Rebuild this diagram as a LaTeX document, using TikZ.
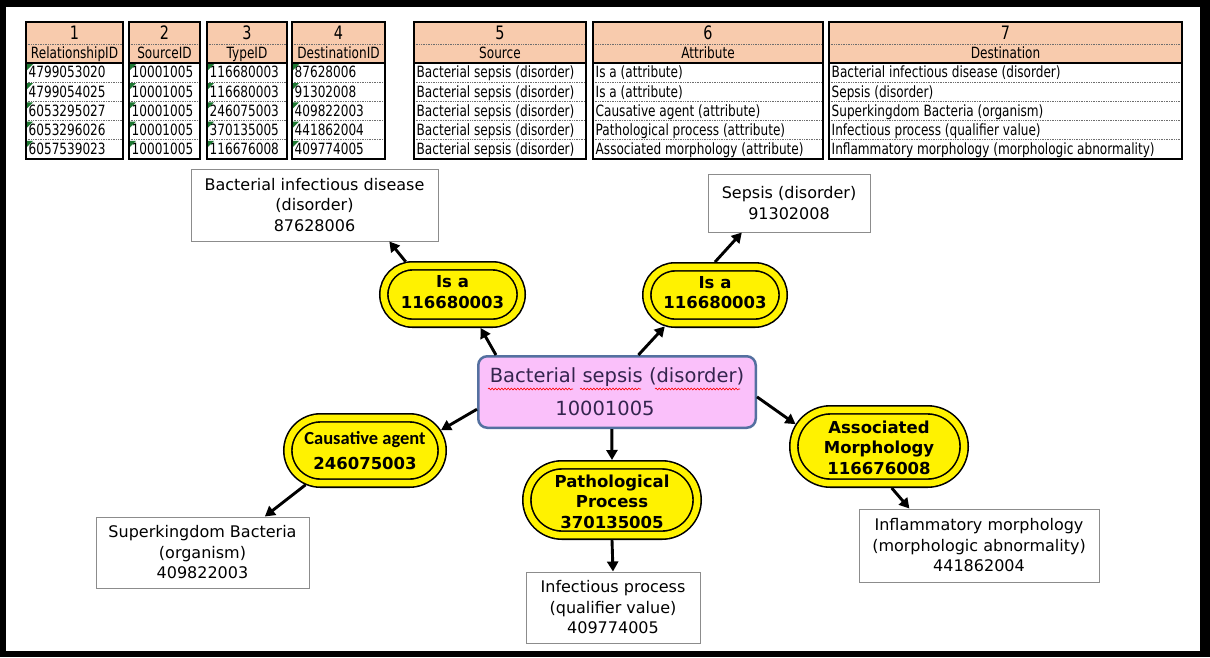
\documentclass[tikz,border=0pt]{standalone}
\usepackage{fontspec}
\setmainfont{DejaVu Sans}
\newfontfamily\tabfont{DejaVu Sans}[FakeStretch=0.78]
\newfontfamily\carl{Carlito}
\usetikzlibrary{shapes.misc,arrows.meta,decorations.pathmorphing}
\definecolor{hdr}{RGB}{248,203,173}
\definecolor{yel}{RGB}{255,242,0}
\definecolor{pinkfill}{RGB}{250,192,250}
\definecolor{mainblue}{RGB}{84,112,160}
\definecolor{boxgray}{RGB}{140,140,140}
\definecolor{maintext}{RGB}{52,36,78}
\definecolor{tgreen}{RGB}{30,120,50}
\definecolor{dotgray}{RGB}{110,110,110}
\newcommand{\coltable}[5]{%
  \fill[hdr] (#2,22) rectangle (#3,63);
  \draw[dotsep] (#2,44) -- (#3,44);
  \foreach \k in {1,...,4} {\draw[dotsep] (#2,{63+19.2*\k}) -- (#3,{63+19.2*\k});}
  \node[numtxt] (#1n) at ({(#2+#3)/2},39.5) {#4};
  \node[labtxt] (#1l) at ({(#2+#3)/2},58.5) {#5};
}
\newcommand{\colborder}[2]{%
  \draw[line width=1.5pt] (#1,63) -- (#2,63);
  \draw[line width=1.5pt] (#1,22) rectangle (#2,159);
}
\newcommand{\cellrows}[7]{%
  \node[celltxt] (#1a) at (#2+2.5,77.8) {#3};
  \node[celltxt] (#1b) at (#2+2.5,97.0) {#4};
  \node[celltxt] (#1c) at (#2+2.5,116.2) {#5};
  \node[celltxt] (#1d) at (#2+2.5,135.4) {#6};
  \node[celltxt] (#1e) at (#2+2.5,154.6) {#7};
}
\newcommand{\greentri}[1]{%
  \foreach \k in {0,...,4} {\fill[tgreen] (#1+1,{63+19.2*\k+1}) -- ++(6,0) -- ++(-6,6) -- cycle;}
}
\begin{document}
\begin{tikzpicture}[x=1pt,y=-1pt,
  dotsep/.style={densely dotted, draw=dotgray, line width=0.7pt},
  numtxt/.style={anchor=base, inner sep=0pt, font=\tabfont\fontsize{18.5}{20}\selectfont},
  labtxt/.style={anchor=base, inner sep=0pt, font=\tabfont\fontsize{15.5}{17}\selectfont},
  celltxt/.style={anchor=base west, inner sep=0pt, font=\tabfont\fontsize{15.5}{17}\selectfont},
  box/.style={rectangle, draw=boxgray, line width=1pt, fill=white, align=center, inner sep=0pt,
    font=\fontsize{16}{20.5}\selectfont},
  mainbox/.style={rectangle, rounded corners=9pt, draw=mainblue, line width=2.5pt, fill=pinkfill,
    align=center, inner sep=0pt, text=maintext, font=\fontsize{19.5}{33}\selectfont},
  ynode/.style={rounded rectangle, fill=yel, draw=black, line width=1.6pt, double=yel,
    double distance=6.5pt, outer sep=4.85pt, inner sep=0pt},
  ytxt/.style={align=center, inner sep=0pt, font=\bfseries\fontsize{16.5}{20.5}\selectfont},
  arr/.style={line width=2.9pt, -{Triangle[length=10pt,width=11pt]}},
  wavy/.style={draw=red, line width=0.6pt, decorate, decoration={snake, amplitude=0.9pt, segment length=3.2pt}}
]
\useasboundingbox (0,0) rectangle (1210,657);
\fill[black] (0,0) rectangle (1210,657);
\fill[white] (6,7) rectangle (1200,651);

% ---- tables ----
\coltable{t1}{26}{123}{1}{RelationshipID}
\cellrows{t1}{26}{4799053020}{4799054025}{6053295027}{6053296026}{6057539023}
\greentri{26}
\colborder{26}{123}

\coltable{t2}{129}{200}{2}{SourceID}
\cellrows{t2}{129}{10001005}{10001005}{10001005}{10001005}{10001005}
\greentri{129}
\colborder{129}{200}

\coltable{t3}{207}{287}{3}{TypeID}
\cellrows{t3}{207}{116680003}{116680003}{246075003}{370135005}{116676008}
\greentri{207}
\colborder{207}{287}

\coltable{t4}{292}{385}{4}{DestinationID}
\cellrows{t4}{292}{87628006}{91302008}{409822003}{441862004}{409774005}
\greentri{292}
\colborder{292}{385}

\coltable{t5}{414}{586}{5}{Source}
\cellrows{t5}{414}{Bacterial sepsis (disorder)}{Bacterial sepsis (disorder)}{Bacterial sepsis (disorder)}{Bacterial sepsis (disorder)}{Bacterial sepsis (disorder)}
\colborder{414}{586}

\coltable{t6}{593}{823}{6}{Attribute}
\cellrows{t6}{593}{Is a (attribute)}{Is a (attribute)}{Causative agent (attribute)}{Pathological process (attribute)}{Associated morphology (attribute)}
\colborder{593}{823}

\coltable{t7}{829}{1182}{7}{Destination}
\cellrows{t7}{829}{Bacterial infectious disease (disorder)}{Sepsis (disorder)}{Superkingdom Bacteria (organism)}{Infectious process (qualifier value)}{Inflammatory morphology (morphologic abnormality)}
\colborder{829}{1182}

% ---- diagram ----
\node[box, minimum width=247, minimum height=72] (bid) at (314.5,205) {Bacterial infectious disease\\(disorder)\\87628006};
\node[box, minimum width=162, minimum height=58] (sep) at (789,203) {Sepsis (disorder)\\91302008};
\node[mainbox, minimum width=277.5, minimum height=71.5] (main) at (617,392) {Bacterial sepsis (disorder)\\10001005\hspace*{24pt}};

\node[ynode, minimum width=137.3, minimum height=57.3] (isaL) at (452.5,294.5) {};
\node[ytxt] (isaLt) at (452.5,292) {Is a\\116680003};
\node[ynode, minimum width=136.3, minimum height=56.3] (isaR) at (715,295) {};
\node[ytxt] (isaRt) at (715,292.5) {Is a\\116680003};

\node[ynode, minimum width=154.3, minimum height=65.3] (caus) at (365,450.5) {};
\node[inner sep=0pt, font=\carl\bfseries\fontsize{18.5}{20}\selectfont] (causa) at (365,440) {Causative agent};
\node[inner sep=0pt, font=\bfseries\fontsize{16.5}{20}\selectfont] (causb) at (365,463.5) {246075003};

\node[box, minimum width=213, minimum height=71] (sup) at (202.5,552.5) {Superkingdom Bacteria\\(organism)\\409822003};

\node[ynode, minimum width=170.3, minimum height=70.3] (pat) at (612,500) {};
\node[ytxt] (patt) at (612,501.5) {Pathological\\Process\\370135005};
\node[box, minimum width=174, minimum height=71] (inf) at (613,607.5) {Infectious process\\(qualifier value)\\409774005};

\node[ynode, minimum width=170.3, minimum height=73.3] (aso) at (879,446.5) {};
\node[ytxt] (asot) at (879,447.5) {Associated\\Morphology\\116676008};
\node[box, minimum width=240, minimum height=73] (infl) at (979,545.5) {Inflammatory morphology\\(morphologic abnormality)\\441862004};

% spell-check squiggles
\draw[wavy] (488,389) -- (573,389);
\draw[wavy] (580,389) -- (641,389);
\draw[wavy] (655,389) -- (740,389);

% ---- connectors ----
\draw[arr] (main.163) -- (isaL.-50);
\draw[arr] (isaL.145) -- (bid.-26);
\draw[arr] (main.60) -- (isaR.212);
\draw[arr] (isaR.north) -- (sep.212);
\draw[arr] (main.187) -- (caus.15);
\draw[arr] (caus.210) -- (sup.30);
\draw[arr] (main.262) -- (pat.north);
\draw[arr] (pat.south) -- (inf.north);
\draw[arr] (main.-2) -- (aso.165);
\draw[arr] (aso.-73) -- (infl.152);
\end{tikzpicture}
\end{document}
